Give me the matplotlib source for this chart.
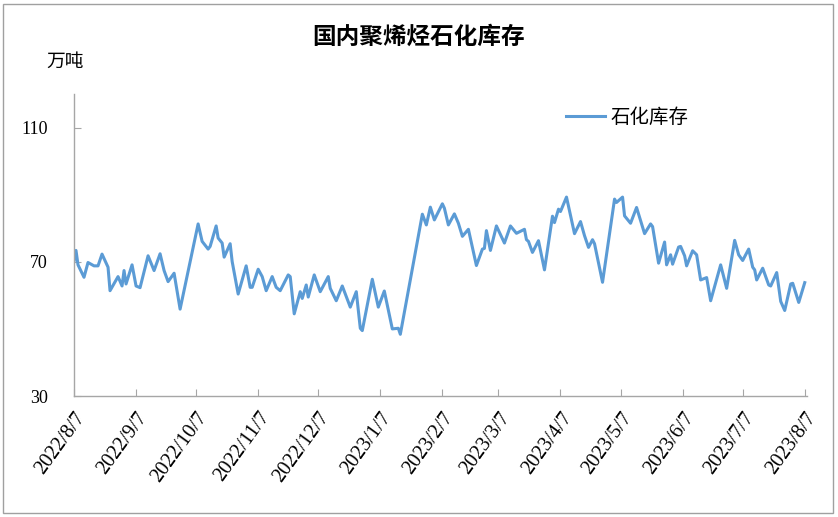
import matplotlib.pyplot as plt
import matplotlib.patches as patches
import pandas as pd

# 石化库存, 万吨
dates = [
    "2022-08-07", "2022-08-08", "2022-08-09", "2022-08-12", "2022-08-14", "2022-08-17",
    "2022-08-19", "2022-08-21", "2022-08-24", "2022-08-25", "2022-08-29", "2022-08-31",
    "2022-09-01", "2022-09-02", "2022-09-05", "2022-09-07", "2022-09-09", "2022-09-13",
    "2022-09-16", "2022-09-19", "2022-09-21", "2022-09-23", "2022-09-26", "2022-09-29",
    "2022-10-08", "2022-10-10", "2022-10-13", "2022-10-14", "2022-10-17", "2022-10-18",
    "2022-10-20", "2022-10-21", "2022-10-24", "2022-10-25", "2022-10-28", "2022-11-01",
    "2022-11-03", "2022-11-04", "2022-11-07", "2022-11-09", "2022-11-11", "2022-11-14",
    "2022-11-16", "2022-11-18", "2022-11-22", "2022-11-23", "2022-11-25", "2022-11-28",
    "2022-11-29", "2022-12-01", "2022-12-02", "2022-12-05", "2022-12-08", "2022-12-12",
    "2022-12-13", "2022-12-16", "2022-12-19", "2022-12-23", "2022-12-26", "2022-12-28",
    "2022-12-29", "2023-01-03", "2023-01-06", "2023-01-09", "2023-01-13", "2023-01-16",
    "2023-01-17", "2023-01-28", "2023-01-30", "2023-02-01", "2023-02-03", "2023-02-07",
    "2023-02-08", "2023-02-10", "2023-02-13", "2023-02-15", "2023-02-17", "2023-02-20",
    "2023-02-24", "2023-02-27", "2023-02-28", "2023-03-01", "2023-03-03", "2023-03-06",
    "2023-03-10", "2023-03-13", "2023-03-16", "2023-03-20", "2023-03-21", "2023-03-22",
    "2023-03-24", "2023-03-27", "2023-03-30", "2023-04-03", "2023-04-04", "2023-04-06",
    "2023-04-07", "2023-04-10", "2023-04-14", "2023-04-17", "2023-04-19", "2023-04-21",
    "2023-04-23", "2023-04-24", "2023-04-28", "2023-05-04", "2023-05-05", "2023-05-08",
    "2023-05-09", "2023-05-12", "2023-05-15", "2023-05-19", "2023-05-22", "2023-05-23",
    "2023-05-26", "2023-05-29", "2023-05-30", "2023-06-01", "2023-06-02", "2023-06-05",
    "2023-06-06", "2023-06-08", "2023-06-09", "2023-06-12", "2023-06-14", "2023-06-16",
    "2023-06-19", "2023-06-21", "2023-06-26", "2023-06-29", "2023-07-03", "2023-07-05",
    "2023-07-07", "2023-07-10", "2023-07-12", "2023-07-13", "2023-07-14", "2023-07-17",
    "2023-07-20", "2023-07-21", "2023-07-24", "2023-07-26", "2023-07-28", "2023-07-31",
    "2023-08-01", "2023-08-04", "2023-08-07",
]
stock = [
    70.1, 73.4, 69.1, 65.4, 69.8, 68.8,
    68.8, 72.3, 68.4, 61.4, 65.6, 62.8,
    67.4, 63.4, 69.1, 62.8, 62.3, 71.8,
    67.4, 72.4, 67.4, 64.1, 66.6, 55.9,
    81.3, 76.1, 73.8, 74.6, 80.7, 77.1,
    75.6, 71.4, 75.4, 70.1, 60.4, 68.8,
    62.4, 62.4, 67.8, 65.6, 61.4, 65.6,
    62.4, 61.4, 66.1, 65.6, 54.5, 61.1,
    59.1, 63.1, 59.5, 66.1, 61.1, 65.6,
    62.1, 58.4, 62.8, 56.5, 61.1, 50.2,
    49.5, 64.8, 56.5, 61.3, 50.0, 50.2,
    48.4, 84.2, 81.0, 86.3, 82.5, 87.3,
    86.0, 81.0, 84.3, 81.5, 77.6, 79.7,
    68.9, 73.8, 74.0, 79.3, 73.4, 80.7,
    75.6, 80.7, 78.5, 79.7, 76.6, 76.1,
    72.8, 76.3, 67.6, 83.6, 81.7, 85.7,
    85.0, 89.3, 78.4, 82.0, 77.8, 74.3,
    76.6, 75.4, 63.9, 88.7, 87.7, 89.3,
    83.7, 81.5, 86.2, 78.4, 81.3, 80.5,
    69.6, 75.9, 69.1, 72.1, 69.3, 74.4,
    74.6, 71.8, 68.8, 73.3, 72.1, 64.6,
    65.3, 58.4, 69.1, 62.1, 76.4, 72.1,
    70.4, 73.8, 68.4, 67.6, 64.6, 68.1,
    63.1, 62.8, 66.8, 58.2, 55.5, 63.4,
    63.6, 57.9, 63.8,
]
tick_dates = ["2022-08-07", "2022-09-07", "2022-10-07", "2022-11-07", "2022-12-07",
              "2023-01-07", "2023-02-07", "2023-03-07", "2023-04-07", "2023-05-07",
              "2023-06-07", "2023-07-07", "2023-08-07"]
y_ticks = [30, 70, 110]

plt.rcParams['font.family'] = ['Noto Sans CJK SC', 'DejaVu Sans']

x = pd.to_datetime(dates)
fig = plt.figure(figsize=(8.38, 5.17), dpi=100)
ax = fig.add_axes([0.0883, 0.234, 0.8744, 0.584])

ax.plot(x, stock, color='#5B9BD5', lw=2.2, label='石化库存')

ax.set_xlim(pd.Timestamp("2022-08-07"), pd.Timestamp("2023-08-08"))
ax.set_ylim(30, 120)
ax.set_yticks(y_ticks)
ticks = pd.to_datetime(tick_dates)
ax.set_xticks(ticks)
ax.set_xticklabels([f"{t.year}/{t.month}/{t.day}" for t in ticks],
                   rotation=54, ha='right', rotation_mode='anchor',
                   family='Liberation Serif', fontsize=14.5)
for lab in ax.get_yticklabels():
    lab.set_family('Liberation Serif')
    lab.set_fontsize(13)

for s in ['top', 'right']:
    ax.spines[s].set_visible(False)
for s in ['left', 'bottom']:
    ax.spines[s].set_color('#a6a6a6')
    ax.spines[s].set_linewidth(1.0)
ax.tick_params(axis='both', direction='in', length=5, color='#a6a6a6')
ax.tick_params(axis='y', pad=19)
ax.tick_params(axis='x', pad=9)

ax.legend(loc='upper left', bbox_to_anchor=(0.648, 1.015), frameon=False,
          fontsize=14, handlelength=2.0, handletextpad=0.3)

fig.text(0.499, 0.928, '国内聚烯烃石化库存', ha='center', va='center',
         fontsize=17, fontweight='bold')
fig.text(0.078, 0.882, '万吨', ha='center', va='center', fontsize=13.5)

fig.patches.append(patches.Rectangle((0.004, 0.008), 0.990, 0.985, transform=fig.transFigure,
                                     fill=False, edgecolor='#a0a0a0', lw=1.0))

fig.savefig('out.png', dpi=100)
